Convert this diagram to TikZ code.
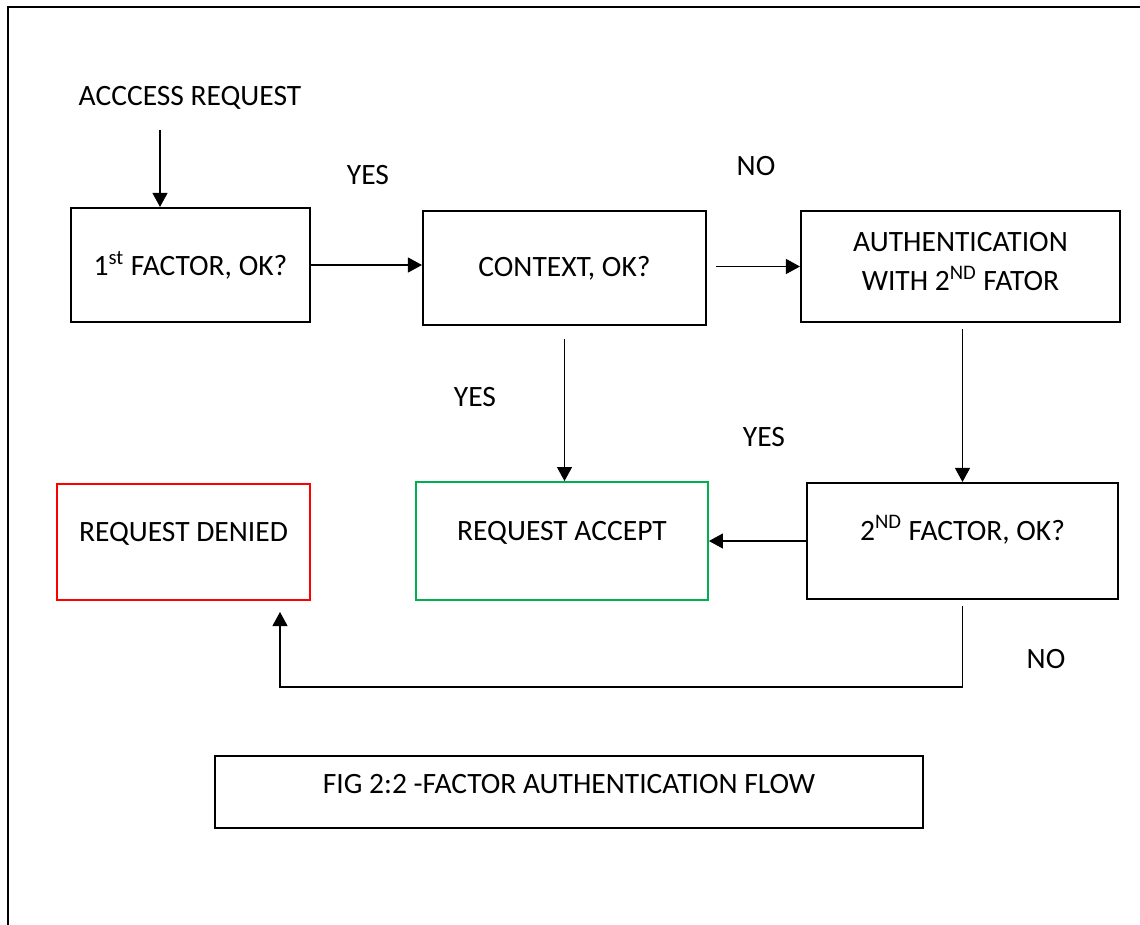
\documentclass[tikz,border=0pt]{standalone}
\usepackage{fontspec}
\setmainfont{Carlito}
\usetikzlibrary{arrows.meta}

\definecolor{okgreen}{RGB}{0,176,80}
\definecolor{nored}{RGB}{255,0,0}

\begin{document}
\begin{tikzpicture}[x=0.02cm, y=-0.02cm, font=\fontsize{16.8}{22}\selectfont,
    box/.style={draw, line width=1.2pt, inner sep=0pt, align=center},
    lowtext/.style={text height=0.38cm, text depth=0.42cm}]

\useasboundingbox (0,0) rectangle (1140,924);
% page frame, only left and top edges fall inside
\draw [line width=1pt] (8,940) |- (1150,7);

\begin{scope}[every node/.style={box}]
    \node (f1) at (190.5, 265) [minimum width=4.78cm, minimum height=2.28cm] {1\textsuperscript{st} FACTOR, OK?};
    \node (ctx) at (564.5, 268) [minimum width=5.66cm, minimum height=2.28cm] {CONTEXT, OK?};
    \node (auth) at (960.5, 266.5) [minimum width=6.38cm, minimum height=2.22cm, text depth=0.2cm] {AUTHENTICATION\\WITH 2\textsuperscript{ND} FATOR};

    \node (f2) at (962.5, 541) [minimum width=6.22cm, minimum height=2.32cm, lowtext] {2\textsuperscript{ND} FACTOR, OK?};
    \node (acc) at (562, 541) [minimum width=5.84cm, minimum height=2.36cm, lowtext, draw=okgreen, line width=1.1pt] {REQUEST ACCEPT};
    \node (den) at (183.5, 542) [minimum width=5.06cm, minimum height=2.32cm, lowtext, draw=nored, line width=1.1pt] {REQUEST DENIED};

    \node (cap) at (569, 792) [minimum width=14.16cm, minimum height=1.44cm, text height=0.38cm, text depth=0.32cm] {FIG 2:2 -FACTOR AUTHENTICATION FLOW};
\end{scope}

% free text
\node (access) at (190, 98) {ACCCESS REQUEST};
\node (yes1) at (368, 175) {YES};
\node (no1) at (756, 166) {NO};
\node (yes2) at (475, 397) {YES};
\node (yes3) at (764, 437) {YES};
\node (no2) at (1046, 659) {NO};

\coordinate (a1) at (160, 130);
\coordinate (turn) at (280, 687);
\coordinate (den-in) at (280, 612);

\begin{scope}[>={Triangle[length=0.28cm, width=0.3cm]},
              every edge/.style={draw, line width=0.6pt}]
    \path [->] (a1) edge (a1 |- f1.north);
    \path [->] (f1.east) edge (f1.east -| ctx.west);
    \path [->] ([xshift=0.18cm]ctx.east |- auth.west) edge (auth.west);
    \path [->] ([yshift=-0.12cm]f2.north |- auth.south) edge (f2.north);
    \path [->] ([yshift=-0.26cm]ctx.south) edge (ctx.south |- acc.north);
    \path [->] (f2.west) edge (acc.east);
\end{scope}

% NO branch back to the denied box
\draw [line width=0.6pt, ->, >={Triangle[length=0.28cm, width=0.3cm]}]
    ([yshift=-0.12cm]f2.south) |- (turn) -- (den-in);

\end{tikzpicture}
\end{document}
